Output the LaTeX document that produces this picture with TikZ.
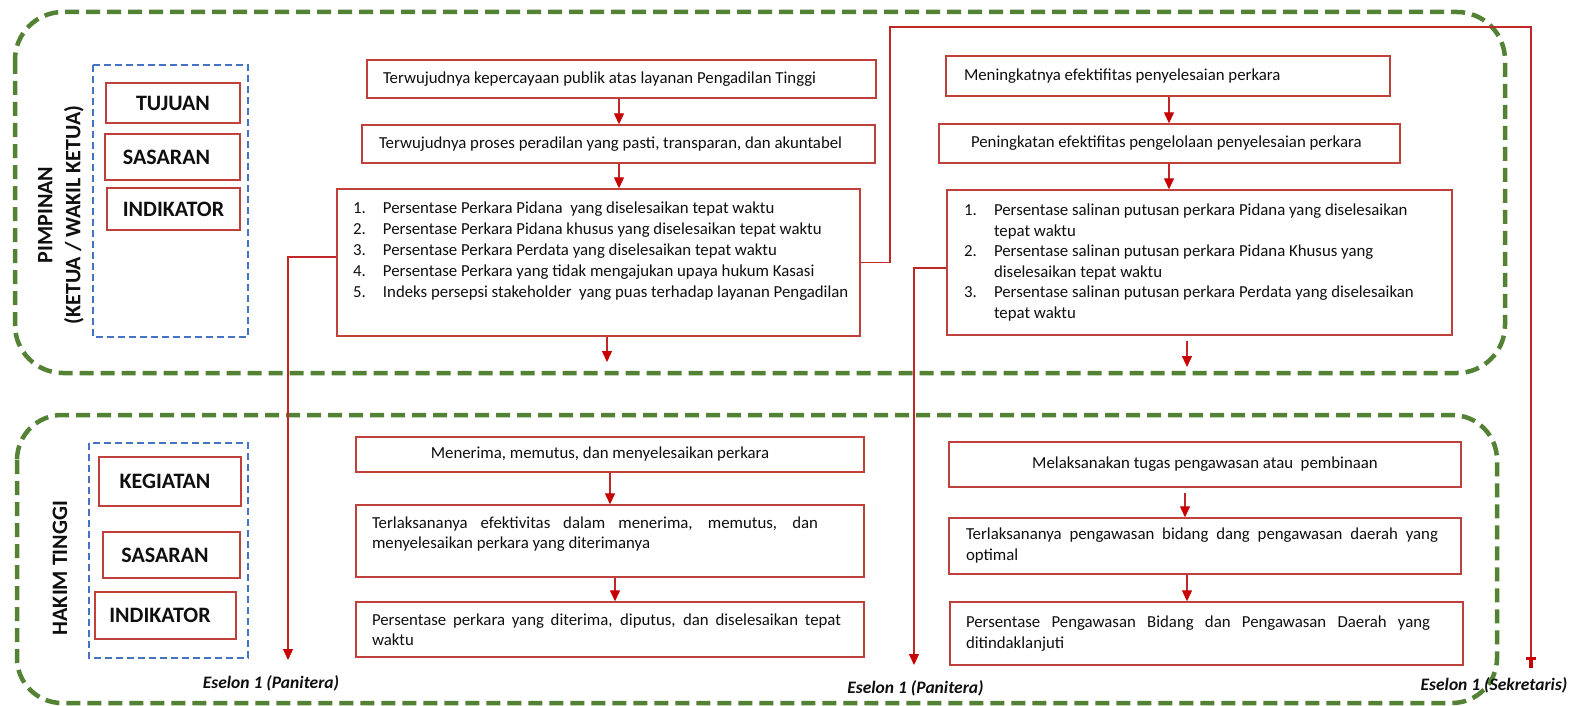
\documentclass[tikz,border=0pt]{standalone}
\usepackage{fontspec}
\setmainfont{Carlito}
\usetikzlibrary{arrows.meta}
\definecolor{boxred}{RGB}{192,64,60}
\definecolor{connred}{RGB}{192,40,40}
\definecolor{tipred}{RGB}{200,0,0}
\definecolor{grn}{RGB}{84,130,53}
\definecolor{blu}{RGB}{68,114,196}
\definecolor{txt}{RGB}{15,15,15}
\newcommand\boxfont{\fontsize{16.8pt}{21pt}\selectfont}
\newcommand\lblfont{\fontsize{22pt}{28pt}\selectfont\bfseries}
\newcommand\eslfont{\fontsize{17.5pt}{21pt}\selectfont\bfseries\itshape}
\begin{document}
\begin{tikzpicture}[x=1pt,y=-1pt,
  rbox/.style={draw=boxred, line width=1.4pt, inner sep=0pt, text=txt, font=\boxfont},
  lblbox/.style={rbox, font=\lblfont},
  arr/.style={draw=connred, line width=1.2pt, -{Triangle[width=10pt,length=11pt,color=tipred]}},
  conn/.style={draw=connred, line width=1.4pt},
  grp/.style={draw=grn, line width=4.5pt, dash pattern=on 14pt off 7pt},
  blugrp/.style={draw=blu, line width=2.5pt, dash pattern=on 7pt off 4pt},
  vlabel/.style={rotate=90, align=center, font=\lblfont, text=txt, inner sep=0pt},
  eslabel/.style={font=\eslfont, text=txt, inner sep=0pt},
]
\fill[white] (0,0) rectangle (1581,706);
\useasboundingbox (0,0) rectangle (1581,706);

% group frames
\draw[grp, rounded corners=48pt] (15,12) rectangle (1505,373);
\draw[grp, rounded corners=45pt] (17,415) rectangle (1497,703);
\draw[blugrp] (93,65) rectangle (248,337);
\draw[blugrp] (89,443) rectangle (248,658);

% side labels
\node[vlabel] (pim) at (61,215) {PIMPINAN\\(KETUA / WAKIL KETUA)};
\node[vlabel] (hak) at (60,568) {HAKIM TINGGI};

\node[lblbox, minimum width=134pt, minimum height=40pt] (tuj) at (173,103) {TUJUAN};
\node[lblbox, minimum width=135pt, minimum height=46pt] (sas1) at (172.5,157) {SASARAN\hspace*{12pt}};
\node[lblbox, minimum width=133pt, minimum height=42pt] (ind1) at (173.5,209) {INDIKATOR};
\node[lblbox, minimum width=142pt, minimum height=49pt] (keg) at (170,481.5) {KEGIATAN\hspace*{10pt}};
\node[lblbox, minimum width=137pt, minimum height=46pt] (sas2) at (171.5,555) {SASARAN\hspace*{13pt}};
\node[lblbox, minimum width=141pt, minimum height=47pt] (ind2) at (165.5,615.5) {INDIKATOR\hspace*{11pt}};

% top middle column
\node[rbox, minimum width=509pt, minimum height=38pt] (T1) at (621.5,79)
  {\makebox[477pt][l]{Terwujudnya kepercayaan publik atas layanan Pengadilan Tinggi}};
\node[rbox, minimum width=513pt, minimum height=38pt] (T2) at (618.5,144)
  {\makebox[479pt][l]{Terwujudnya proses peradilan yang pasti, transparan, dan akuntabel}};
\node[rbox, minimum width=523pt, minimum height=147pt] (T3) at (598.5,262.5)
  {\parbox{505pt}{\baselineskip=21pt
   \makebox[30pt][l]{1.}Persentase Perkara Pidana\ \ yang diselesaikan tepat waktu\\
   \makebox[30pt][l]{2.}Persentase Perkara Pidana khusus yang diselesaikan tepat waktu\\
   \makebox[30pt][l]{3.}Persentase Perkara Perdata yang diselesaikan tepat waktu\\
   \makebox[30pt][l]{4.}Persentase Perkara yang tidak mengajukan upaya hukum Kasasi\\
   \makebox[30pt][l]{5.}Indeks persepsi stakeholder\ \ yang puas terhadap layanan Pengadilan\par\vspace*{23pt}}\hspace*{-14pt}};

% top right column
\node[rbox, minimum width=444pt, minimum height=40pt] (R1) at (1168,76)
  {\makebox[408pt][l]{Meningkatnya efektifitas penyelesaian perkara}};
\node[rbox, minimum width=461pt, minimum height=39pt] (R2) at (1169.5,143.5)
  {\makebox[397pt][l]{Peningkatan efektifitas pengelolaan penyelesaian perkara}};
\node[rbox, minimum width=505pt, minimum height=145pt] (R3) at (1199.5,262.5)
  {\parbox{471pt}{\baselineskip=20.5pt
   \makebox[30pt][l]{1.}Persentase salinan putusan perkara Pidana yang diselesaikan\\
   \hspace*{30pt}tepat waktu\\
   \makebox[30pt][l]{2.}Persentase salinan putusan perkara Pidana Khusus yang\\
   \hspace*{30pt}diselesaikan tepat waktu\\
   \makebox[30pt][l]{3.}Persentase salinan putusan perkara Perdata yang diselesaikan\\
   \hspace*{30pt}tepat waktu}};

% bottom middle column
\node[rbox, minimum width=508pt, minimum height=35pt] (B1) at (610,454.5)
  {Menerima, memutus, dan menyelesaikan perkara\hspace*{20pt}};
\node[rbox, minimum width=508pt, minimum height=72pt] (B2) at (610,541)
  {\parbox{446pt}{\baselineskip=20pt Terlaksananya efektivitas dalam menerima, memutus, dan\linebreak menyelesaikan perkara yang diterimanya\par\vspace*{13pt}}\hspace*{30pt}};
\node[rbox, minimum width=508pt, minimum height=55pt] (B3) at (610,629.5)
  {\parbox{469pt}{\baselineskip=20pt Persentase perkara yang diterima, diputus, dan diselesaikan tepat\linebreak waktu}\hspace*{7pt}};

% bottom right column
\node[rbox, minimum width=512pt, minimum height=45pt] (RB1) at (1205,464.5)
  {Melaksanakan tugas pengawasan atau\ \ pembinaan};
\node[rbox, minimum width=512pt, minimum height=56pt] (RB2) at (1205,546)
  {\parbox{472pt}{\baselineskip=21pt Terlaksananya pengawasan bidang dang pengawasan daerah yang\linebreak optimal}\hspace*{6pt}};
\node[rbox, minimum width=513pt, minimum height=63pt] (RB3) at (1206.5,633.5)
  {\parbox{464pt}{\baselineskip=21pt Persentase Pengawasan Bidang dan Pengawasan Daerah yang\linebreak ditindaklanjuti}\hspace*{17pt}};

% eselon labels
\node[eslabel] (es1) at (271,683) {Eselon 1 (Panitera)};
\node[eslabel] (es2) at (915.5,688) {Eselon 1 (Panitera)};
\node[eslabel] (es3) at (1494,685) {Eselon 1 (Sekretaris)};

% free ends
\coordinate (e1) at (288,660);
\coordinate (c1) at (890,27);
\coordinate (e3) at (1531,668);
\coordinate (e2) at (914,665);
\coordinate (d1) at (607,362);
\coordinate (d2) at (1187,367);

% arrows inside columns
\draw[arr] ([xshift=-2.5pt]T1.south) -- ([xshift=0.5pt]T2.north);
\draw[arr] ([xshift=0.5pt]T2.south) -- ([xshift=20.5pt]T3.north);
\draw[arr] ([xshift=8.5pt]T3.south) -- (d1);
\draw[arr] ([xshift=1pt]R1.south) -- ([xshift=-0.5pt]R2.north);
\draw[arr] ([xshift=-0.5pt]R2.south) -- ([xshift=-30.5pt]R3.north);
\draw[arr] ([xshift=-12.5pt,yshift=-5pt]R3.south) -- (d2);
\draw[arr] (B1.south) -- (B2.north);
\draw[arr] ([xshift=5pt]B2.south) -- ([xshift=5pt]B3.north);
\draw[arr] ([xshift=-20pt,yshift=-5pt]RB1.south) -- ([xshift=-20pt]RB2.north);
\draw[arr] ([xshift=-18pt]RB2.south) -- ([xshift=-19.5pt]RB3.north);

% long connectors
\draw[arr] ([yshift=5.5pt]T3.west) -| (e1);
\draw[arr] ([yshift=-5.5pt]R3.west) -| (e2);
\draw[conn, -{Rectangle[width=10pt,length=3pt,color=tipred] Rectangle[width=4pt,length=8pt,color=tipred]}] (T3.east) -| (c1) -| (e3);
\end{tikzpicture}
\end{document}
